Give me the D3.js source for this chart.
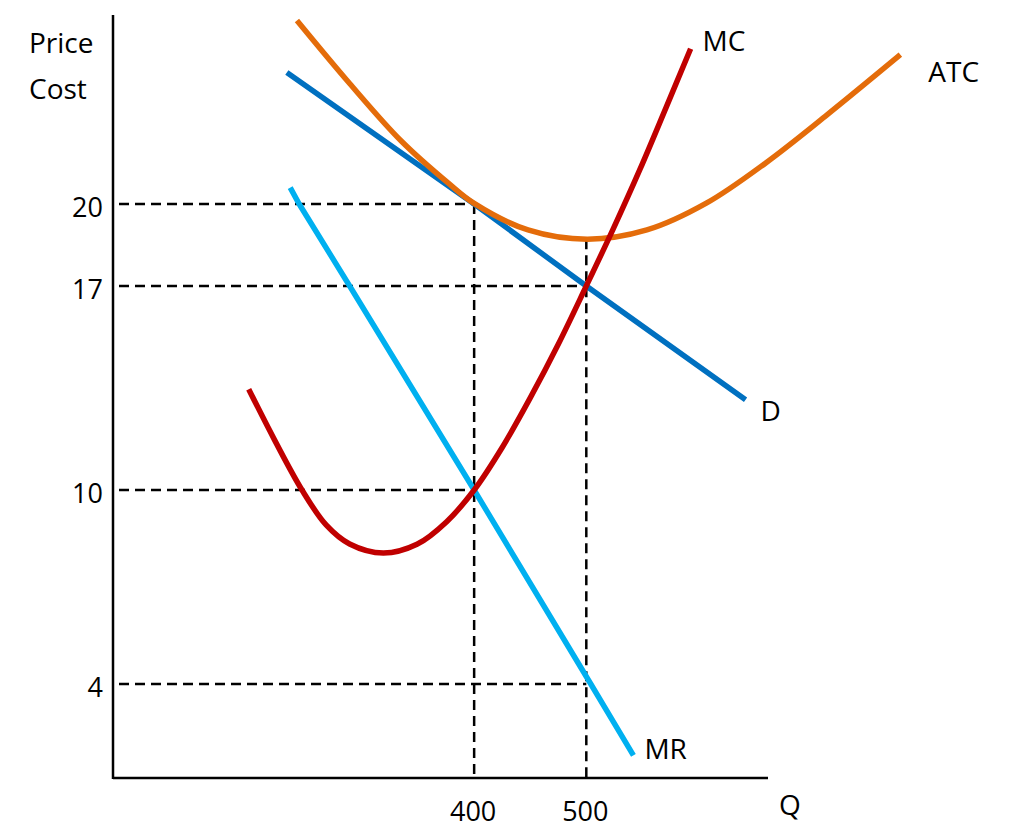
<!DOCTYPE html>
<html>
<head>
<meta charset="utf-8">
<script src="https://cdn.jsdelivr.net/npm/d3@7"></script>
<style>
  html, body { margin: 0; padding: 0; background: #fff; }
  svg { display: block; font-family: "Open Sans", sans-serif; }
</style>
</head>
<body>
<svg id="chart" width="1024" height="836"></svg>
<script>
// ---- Data ----
const yTickValues = [4, 10, 17, 20];
const xTickValues = [400, 500];

const demandQ = [233, 400, 500, 642];
const demandP = [24.8, 20, 17, 13.1];

const mrQ = [236, 244, 289, 400, 504, 542];
const mrP = [20.6, 20, 17, 10, 4, 1.8];

const mcQ = [199, 222, 246.5, 268, 289, 319, 349, 375.5, 400, 425, 450, 475, 500, 524, 548, 571, 593];
const mcP = [13.46, 11.72, 10, 8.92, 8.33, 8.05, 8.32, 9.02, 10, 11.46, 13.16, 15.0, 17, 19.09, 21.28, 23.51, 25.67];

const atcQ = [242, 289, 335, 377, 400, 448, 501, 554, 607, 660, 713, 780];
const atcP = [26.7, 24.4, 22.3, 20.76, 20.02, 19.05, 18.71, 19.05, 20.03, 21.5, 23.2, 25.45];

// dashed guide lines: [quantity, price]
const guideH = [[400, 20], [500, 17], [400, 10], [500, 4]];
const guideV = [[400, 20], [500, 18.71]];

// ---- Scales ----
const svg = d3.select("#chart");
const x = d3.scaleLinear().domain([78, 662]).range([113, 768]);
// schematic (non-uniform) price axis: piecewise-linear scale through the tick values
const y = d3.scaleLinear().domain([1.1, 4, 10, 17, 20, 26.9]).range([778, 684, 490, 286, 204, 15]);

const zip = (a, b) => a.map((d, i) => [d, b[i]]);
const line = d3.line().x(d => x(d[0])).y(d => y(d[1]));
const curve = d3.line().x(d => x(d[0])).y(d => y(d[1])).curve(d3.curveCatmullRom.alpha(0.5));

// ---- Dashed guides ----
const dashStyle = sel => sel.attr("stroke", "#000").attr("stroke-width", 2.5)
  .attr("stroke-dasharray", "10,6").attr("fill", "none");

svg.append("g").selectAll("line").data(guideH).join("line")
  .attr("x1", x.range()[0] + 6).attr("x2", d => x(d[0]))
  .attr("y1", d => y(d[1])).attr("y2", d => y(d[1]))
  .call(dashStyle);

svg.append("g").selectAll("line").data(guideV).join("line")
  .attr("x1", d => x(d[0])).attr("x2", d => x(d[0]))
  .attr("y1", d => y(d[1])).attr("y2", y.range()[0])
  .call(dashStyle);

// ---- Curves ----
const series = [
  { name: "D",   pts: zip(demandQ, demandP), color: "#0070C0", gen: line,  dx: 15, dy: 21 },
  { name: "MR",  pts: zip(mrQ, mrP),         color: "#00B0F0", gen: line,  dx: 11, dy: 4 },
  { name: "ATC", pts: zip(atcQ, atcP),       color: "#E46C0A", gen: curve, dx: 28, dy: 27 },
  { name: "MC",  pts: zip(mcQ, mcP),         color: "#C00000", gen: curve, dx: 12, dy: 2 }
];

svg.append("g").selectAll("path").data(series).join("path")
  .attr("d", d => d.gen(d.pts))
  .attr("fill", "none")
  .attr("stroke", d => d.color)
  .attr("stroke-width", 5.5);

svg.append("g").selectAll("text").data(series).join("text")
  .attr("x", d => x(d.pts[d.pts.length - 1][0]) + d.dx)
  .attr("y", d => y(d.pts[d.pts.length - 1][1]) + d.dy)
  .attr("font-size", 28)
  .attr("fill", "#000")
  .text(d => d.name);

// ---- Axes ----
const axisG = svg.append("g");
axisG.append("line")
  .attr("x1", x.range()[0]).attr("x2", x.range()[0])
  .attr("y1", y.range()[y.range().length - 1]).attr("y2", y.range()[0] + 1)
  .attr("stroke", "#000").attr("stroke-width", 2.5);
axisG.append("line")
  .attr("x1", x.range()[0]).attr("x2", x.range()[1])
  .attr("y1", y.range()[0]).attr("y2", y.range()[0])
  .attr("stroke", "#000").attr("stroke-width", 2.5);

// y tick labels
svg.append("g").selectAll("text").data(yTickValues).join("text")
  .attr("x", x.range()[0] - 10)
  .attr("y", d => y(d) + 13)
  .attr("text-anchor", "end")
  .attr("font-size", 27)
  .text(d => d);

// x tick labels
svg.append("g").selectAll("text").data(xTickValues).join("text")
  .attr("x", d => x(d) - 1)
  .attr("y", 821)
  .attr("text-anchor", "middle")
  .attr("font-size", 27)
  .text(d => d);

// axis titles
svg.append("text").attr("x", 29).attr("y", 53).attr("font-size", 28).text("Price");
svg.append("text").attr("x", 29).attr("y", 99).attr("font-size", 28).text("Cost");
svg.append("text").attr("x", 779).attr("y", 815).attr("font-size", 28).text("Q");
</script>
</body>
</html>
